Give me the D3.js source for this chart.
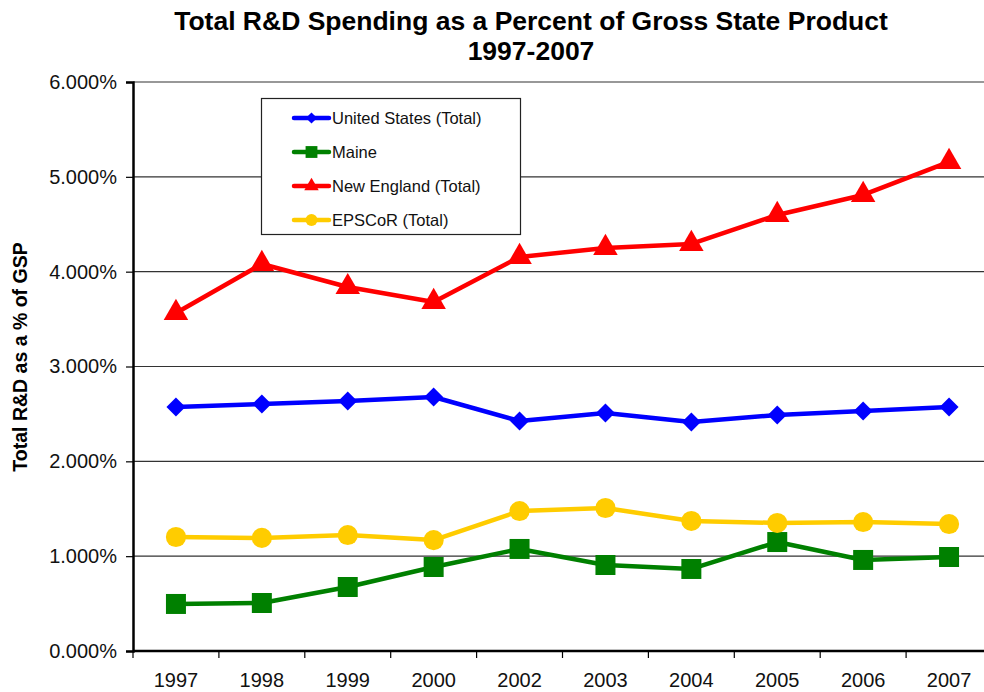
<!DOCTYPE html>
<html>
<head>
<meta charset="utf-8">
<script src="https://cdn.jsdelivr.net/npm/d3@7"></script>
<style>
  body { margin: 0; background: #fff; }
  svg { font-family: "Liberation Sans", Arial, sans-serif; }
</style>
</head>
<body>
<div id="chart"></div>
<script>
// Les années (2001 manque dans l'original)
const years = ["1997", "1998", "1999", "2000", "2002", "2003", "2004", "2005", "2006", "2007"]

// Valeurs en % du GSP
const unitedStates = [2.573, 2.605, 2.636, 2.678, 2.425, 2.51, 2.415, 2.489, 2.53, 2.573]
const maine = [0.496, 0.506, 0.675, 0.886, 1.076, 0.907, 0.865, 1.149, 0.96, 0.991]
const newEngland = [3.564, 4.081, 3.838, 3.68, 4.155, 4.25, 4.292, 4.598, 4.809, 5.157]
const epscor = [1.202, 1.192, 1.223, 1.17, 1.476, 1.508, 1.371, 1.35, 1.36, 1.339]

const yTicks = [0, 1, 2, 3, 4, 5, 6]

const seriesNames = ["United States (Total)", "Maine", "New England (Total)", "EPSCoR (Total)"]
const seriesValues = [unitedStates, maine, newEngland, epscor]
const seriesColors = ["#0000ff", "#008000", "#ff0000", "#ffcc00"]
const seriesSymbols = [d3.symbolDiamond2, d3.symbolSquare, d3.symbolTriangle, d3.symbolCircle]
const symbolSizes = [230, 400, 260, 320]

const width = 984, height = 692
const margin = {top: 82, right: 0, bottom: 41, left: 133}

const svg = d3.select("#chart").append("svg")
   .attr("width", width)
   .attr("height", height)

const x = d3.scaleBand()
   .domain(years)
   .range([margin.left, width - margin.right + 8])

const y = d3.scaleLinear()
   .domain([0, 6])
   .range([height - margin.bottom, margin.top])

// Titre
const title = svg.append("text")
   .attr("x", 531)
   .attr("text-anchor", "middle")
   .attr("font-weight", "bold")
   .attr("font-size", 26.5)
title.append("tspan").attr("x", 531).attr("y", 30).text("Total R&D Spending as a Percent of Gross State Product")
title.append("tspan").attr("x", 531).attr("y", 60).text("1997-2007")

// Grille horizontale
svg.append("g")
   .selectAll("line")
   .data(yTicks.filter(t => t > 0))
   .join("line")
   .attr("x1", margin.left)
   .attr("x2", 990)
   .attr("y1", d => y(d))
   .attr("y2", d => y(d))
   .attr("stroke", "#333")
   .attr("stroke-width", 1.2)

// Axe Y
const yAxis = svg.append("g")
   .attr("transform", `translate(${margin.left},0)`)
   .call(d3.axisLeft(y).tickValues(yTicks).tickFormat(d => d3.format(".3f")(d) + "%").tickSize(7).tickPadding(9))
yAxis.select(".domain").attr("stroke-width", 2.5)
yAxis.selectAll(".tick line").attr("stroke-width", 1.2)
yAxis.selectAll("text").attr("font-size", 20).attr("fill", "#111").style("font-family", "Liberation Sans, Arial, sans-serif")

// Axe X
const xAxis = svg.append("g")
   .attr("transform", `translate(0,${y(0)})`)
   .call(d3.axisBottom(x).tickSize(0).tickPadding(22))
xAxis.select(".domain").attr("d", `M${margin.left},0H990`).attr("stroke-width", 2.5)
xAxis.selectAll("text").attr("font-size", 20).attr("fill", "#111").style("font-family", "Liberation Sans, Arial, sans-serif")

// Petites graduations entre les catégories
svg.append("g")
   .selectAll("line")
   .data(years)
   .join("line")
   .attr("x1", d => x(d))
   .attr("x2", d => x(d))
   .attr("y1", y(0))
   .attr("y2", y(0) + 7)
   .attr("stroke", "#000")
   .attr("stroke-width", 1.2)

// Titre de l'axe Y
svg.append("text")
   .attr("transform", `translate(27,357) rotate(-90)`)
   .attr("text-anchor", "middle")
   .attr("font-weight", "bold")
   .attr("font-size", 19.5)
   .text("Total R&D as a % of GSP")

// Séries
const cx = d => x(d) + x.bandwidth() / 2
const line = d3.line()
   .x((d, i) => cx(years[i]))
   .y(d => y(d))

seriesValues.forEach((values, s) => {
   const g = svg.append("g")
   g.append("path")
      .datum(values)
      .attr("d", line)
      .attr("fill", "none")
      .attr("stroke", seriesColors[s])
      .attr("stroke-width", 4.5)
      .attr("stroke-linejoin", "round")
   g.selectAll("path.marker")
      .data(values)
      .join("path")
      .attr("class", "marker")
      .attr("transform", (d, i) => `translate(${cx(years[i])},${y(d)})`)
      .attr("d", d3.symbol().type(seriesSymbols[s]).size(symbolSizes[s]))
      .attr("fill", seriesColors[s])
})

// Légende
const legend = svg.append("g")
legend.append("rect")
   .attr("x", 261.5)
   .attr("y", 98.5)
   .attr("width", 259)
   .attr("height", 136)
   .attr("fill", "#fff")
   .attr("stroke", "#222")
   .attr("stroke-width", 1.2)

seriesNames.forEach((name, s) => {
   const ly = 118 + s * 34
   legend.append("line")
      .attr("x1", 294).attr("x2", 329)
      .attr("y1", ly).attr("y2", ly)
      .attr("stroke", seriesColors[s])
      .attr("stroke-width", 4.5)
      .attr("stroke-linecap", "round")
   legend.append("path")
      .attr("transform", `translate(311.5,${ly})`)
      .attr("d", d3.symbol().type(seriesSymbols[s]).size(symbolSizes[s] * 0.35))
      .attr("fill", seriesColors[s])
   legend.append("text")
      .attr("x", 332)
      .attr("y", ly + 6)
      .attr("font-size", 16.5)
      .attr("fill", "#111")
      .text(name)
})
</script>
</body>
</html>
